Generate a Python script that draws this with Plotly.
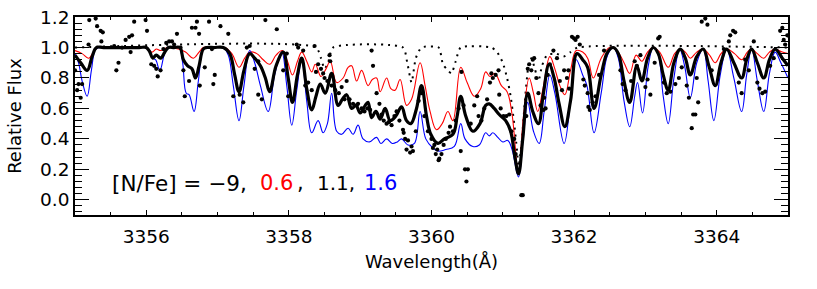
import plotly.graph_objects as go

# ---------------- data ----------------
# model [N/Fe] = -9 (dotted black)
NM9_X = [3355.0, 3358.38, 3358.45, 3358.50, 3358.55, 3358.62, 3359.60, 3359.66, 3359.72, 3359.78,
         3359.86, 3360.10, 3360.16, 3360.23, 3360.28, 3360.34, 3360.41, 3360.84, 3360.92, 3361.00,
         3361.06, 3361.11, 3361.16, 3361.20, 3361.22, 3361.26, 3361.31, 3361.36, 3361.40, 3361.45,
         3361.50, 3361.55, 3361.62, 3361.75, 3361.85, 3361.95, 3362.05, 3365.0]
NM9_Y = [1.0, 1.0, 0.93, 0.86, 0.90, 1.0, 1.0, 0.90, 0.77, 0.93,
         1.0, 1.0, 0.89, 0.85, 0.83, 0.91, 1.0, 1.0, 0.97, 0.90,
         0.80, 0.68, 0.50, 0.32, 0.22, 0.35, 0.65, 0.88, 0.93, 0.86,
         0.78, 0.88, 0.95, 0.96, 0.94, 0.97, 1.0, 1.0]

# model [N/Fe] = 0.6 (red)
N06_X = [3355.00, 3355.10, 3355.19, 3355.27, 3355.32, 3355.42, 3355.90, 3356.00, 3356.08, 3356.14,
         3356.20, 3356.30, 3356.45, 3356.55, 3356.66, 3356.74, 3356.80, 3356.90, 3357.00, 3357.10,
         3357.20, 3357.30, 3357.38, 3357.45,
         3357.55, 3357.64, 3357.73, 3357.82, 3357.91, 3357.98, 3358.05, 3358.12, 3358.18, 3358.25,
         3358.32, 3358.37, 3358.45, 3358.52, 3358.58, 3358.67, 3358.76, 3358.83, 3358.88, 3358.95,
         3359.02, 3359.11, 3359.17, 3359.23, 3359.28, 3359.37, 3359.43, 3359.49, 3359.56, 3359.65,
         3359.72, 3359.84, 3359.91, 3359.98, 3360.07, 3360.15, 3360.23, 3360.30, 3360.41, 3360.50,
         3360.60, 3360.69, 3360.76, 3360.82, 3360.89, 3360.98, 3361.06, 3361.13, 3361.22, 3361.29,
         3361.37, 3361.43, 3361.49, 3361.56, 3361.66, 3361.73, 3361.80, 3361.87, 3361.95, 3362.03,
         3362.12, 3362.19, 3362.27, 3362.38, 3362.50, 3362.60, 3362.70, 3362.78, 3362.87, 3362.95,
         3363.03, 3363.11, 3363.20, 3363.32, 3363.41, 3363.49, 3363.56, 3363.63, 3363.72, 3363.81,
         3363.90, 3363.98, 3364.06, 3364.14, 3364.25, 3364.35, 3364.43, 3364.49, 3364.57, 3364.66,
         3364.74, 3364.82, 3364.92, 3365.00]
N06_Y = [0.98, 0.96, 0.93, 0.98, 1.0, 1.0, 1.0, 1.0, 0.97, 0.99,
         0.98, 1.0, 0.99, 0.97, 0.93, 0.97, 1.0, 1.0, 1.0, 1.0,
         0.96, 0.87, 0.93, 0.97,
         0.96, 0.92, 0.89, 0.95, 0.98, 0.91, 0.82, 0.91, 0.97, 0.91,
         0.84, 0.89, 0.81, 0.86, 0.91, 0.77, 0.80, 0.87, 0.88, 0.78,
         0.85, 0.75, 0.79, 0.80, 0.71, 0.80, 0.73, 0.72, 0.79, 0.62,
         0.66, 0.90, 0.75, 0.58, 0.46, 0.50, 0.58, 0.52, 0.87, 0.77,
         0.68, 0.73, 0.84, 0.81, 0.83, 0.75, 0.71, 0.56, 0.17, 0.55,
         0.80, 0.70, 0.58, 0.72, 0.94, 0.86, 0.75, 0.69, 0.85, 0.98,
         0.97, 0.93, 0.80, 0.93, 1.0, 0.98, 0.90, 0.83, 0.95, 0.91,
         0.97, 1.0, 0.97, 0.87, 0.96, 0.99, 0.97, 0.93, 0.97, 0.99,
         0.95, 0.90, 0.96, 0.99, 0.96, 0.92, 0.97, 0.99, 0.96, 0.93,
         0.97, 0.99, 0.97, 0.96]

# model [N/Fe] = 1.1 (thick black)
N11_X = [3355.00, 3355.08, 3355.17, 3355.24, 3355.30, 3355.40, 3355.90, 3356.00, 3356.05, 3356.09,
         3356.14, 3356.20, 3356.26, 3356.31, 3356.39, 3356.47, 3356.52, 3356.58, 3356.64, 3356.69,
         3356.74, 3356.80, 3356.85, 3356.95, 3357.08, 3357.17, 3357.24, 3357.30, 3357.37, 3357.45,
         3357.52, 3357.60, 3357.67, 3357.73,
         3357.82, 3357.92, 3357.99, 3358.05, 3358.12, 3358.18, 3358.25, 3358.32, 3358.38, 3358.44,
         3358.51, 3358.60, 3358.69, 3358.75, 3358.81, 3358.88, 3358.94, 3359.00, 3359.07, 3359.11,
         3359.16, 3359.22, 3359.28, 3359.35, 3359.42, 3359.50, 3359.58, 3359.65, 3359.71, 3359.79,
         3359.86, 3359.93, 3359.99, 3360.09, 3360.18, 3360.30, 3360.36, 3360.41, 3360.48, 3360.58,
         3360.68, 3360.76, 3360.81, 3360.88, 3360.95, 3361.04, 3361.11, 3361.17, 3361.22, 3361.28,
         3361.35, 3361.42, 3361.50, 3361.57, 3361.65, 3361.72, 3361.79, 3361.87, 3361.95, 3362.04,
         3362.12, 3362.19, 3362.28, 3362.38, 3362.47, 3362.55, 3362.62, 3362.70, 3362.78, 3362.88,
         3362.95, 3363.03, 3363.11, 3363.18, 3363.25, 3363.32, 3363.40, 3363.49, 3363.56, 3363.63,
         3363.72, 3363.81, 3363.89, 3363.98, 3364.06, 3364.14, 3364.24, 3364.35, 3364.42, 3364.49,
         3364.57, 3364.66, 3364.74, 3364.82, 3364.92, 3365.00]
N11_Y = [0.95, 0.90, 0.85, 0.94, 1.0, 1.0, 1.0, 1.0, 0.97, 0.93,
         0.95, 0.93, 0.97, 1.0, 1.0, 1.0, 0.92, 0.88, 0.86, 0.80,
         0.88, 0.99, 1.0, 1.0, 1.0, 0.96, 0.82, 0.71, 0.85, 0.96,
         0.93, 0.88, 0.80, 0.71,
         0.88, 0.97, 0.80, 0.64, 0.82, 0.93, 0.73, 0.59, 0.68, 0.76,
         0.70, 0.83, 0.62, 0.66, 0.69, 0.60, 0.62, 0.57, 0.62, 0.64,
         0.54, 0.58, 0.53, 0.60, 0.52, 0.55, 0.61, 0.52, 0.50, 0.60,
         0.75, 0.55, 0.43, 0.37, 0.40, 0.43, 0.55, 0.68, 0.55, 0.45,
         0.50, 0.62, 0.63, 0.60, 0.56, 0.52, 0.45, 0.28, 0.17, 0.40,
         0.70, 0.58, 0.50, 0.70, 0.89, 0.80, 0.63, 0.48, 0.65, 0.96,
         0.92, 0.87, 0.60, 0.82, 0.97, 1.0, 0.96, 0.78, 0.64, 0.88,
         0.78, 0.93, 1.0, 0.96, 0.82, 0.72, 0.90, 0.99, 0.93, 0.82,
         0.94, 0.99, 0.88, 0.75, 0.90, 0.99, 0.90, 0.80, 0.92, 0.99,
         0.90, 0.80, 0.92, 0.99, 0.93, 0.88]

# model [N/Fe] = 1.6 (blue)
N16_X = [3355.00, 3355.05, 3355.10, 3355.17, 3355.23, 3355.29, 3355.35, 3355.45, 3355.90, 3356.00,
         3356.05, 3356.09, 3356.13, 3356.19, 3356.25, 3356.30, 3356.38, 3356.46, 3356.51, 3356.56,
         3356.60, 3356.67, 3356.73, 3356.80, 3356.85, 3356.95, 3357.08, 3357.15, 3357.22, 3357.30,
         3357.37, 3357.45, 3357.52, 3357.60,
         3357.71, 3357.80, 3357.90, 3357.97, 3358.04, 3358.11, 3358.18, 3358.25, 3358.32, 3358.41,
         3358.48, 3358.54, 3358.60, 3358.67, 3358.74, 3358.83, 3358.90, 3358.97, 3359.04, 3359.13,
         3359.23, 3359.29, 3359.37, 3359.45, 3359.52, 3359.58, 3359.67, 3359.76, 3359.84, 3359.92,
         3360.02, 3360.09, 3360.20, 3360.32, 3360.41, 3360.47, 3360.58, 3360.67, 3360.76, 3360.81,
         3360.86, 3360.93, 3361.00, 3361.07, 3361.13, 3361.22, 3361.29, 3361.35, 3361.43, 3361.51,
         3361.58, 3361.66, 3361.73, 3361.86, 3361.95, 3362.03, 3362.12, 3362.18, 3362.28, 3362.38,
         3362.47, 3362.55, 3362.62, 3362.70, 3362.78, 3362.85, 3362.89, 3362.96, 3363.04, 3363.11,
         3363.18, 3363.25, 3363.32, 3363.40, 3363.48, 3363.55, 3363.63, 3363.72, 3363.81, 3363.88,
         3363.96, 3364.05, 3364.14, 3364.24, 3364.35, 3364.42, 3364.49, 3364.57, 3364.66, 3364.74,
         3364.82, 3364.90, 3365.00]
N16_Y = [0.96, 0.90, 0.78, 0.68, 0.85, 0.99, 1.0, 1.0, 1.0, 1.0,
         0.98, 0.93, 0.92, 0.85, 0.95, 1.0, 1.0, 1.0, 0.90, 0.70,
         0.69, 0.58, 0.78, 0.99, 1.0, 1.0, 1.0, 0.95, 0.75, 0.52,
         0.75, 0.98, 0.90, 0.75,
         0.58, 0.82, 0.97, 0.75, 0.49, 0.72, 0.92, 0.65, 0.44, 0.52,
         0.44, 0.50, 0.70, 0.45, 0.43, 0.47, 0.43, 0.49, 0.40, 0.38,
         0.41, 0.37, 0.40, 0.37, 0.38, 0.40, 0.36, 0.37, 0.58, 0.40,
         0.34, 0.32, 0.33, 0.35, 0.50, 0.40, 0.35, 0.36, 0.44, 0.42,
         0.44, 0.41, 0.38, 0.39, 0.33, 0.15, 0.42, 0.64, 0.45, 0.37,
         0.58, 0.82, 0.70, 0.37, 0.65, 0.92, 0.82, 0.75, 0.44, 0.70,
         0.95, 1.0, 0.93, 0.65, 0.48, 0.68, 0.77, 0.57, 0.88, 1.0,
         0.95, 0.68, 0.50, 0.80, 0.99, 0.88, 0.67, 0.90, 0.99, 0.78,
         0.52, 0.82, 0.99, 0.80, 0.58, 0.82, 0.99, 0.78, 0.58, 0.83,
         0.97, 0.90, 0.80]

# observed spectrum (black dots)
OBS_X = [3355.00, 3355.03, 3355.05, 3355.08, 3355.10, 3355.19, 3355.20, 3355.29, 3355.31, 3355.36,
         3355.39, 3355.37, 3355.55, 3355.58, 3355.61, 3355.66, 3355.71, 3355.76, 3355.80, 3355.78,
         3355.83, 3355.99, 3356.01, 3356.07, 3356.11, 3356.14, 3356.16, 3356.20, 3356.24, 3356.28,
         3356.32, 3356.36, 3356.39, 3356.43, 3356.48, 3356.52, 3356.54, 3356.60, 3356.64, 3356.69,
         3356.71, 3356.74, 3356.75, 3356.82, 3356.88, 3356.92, 3356.94, 3356.96, 3357.04, 3357.15,
         3357.22, 3357.31, 3357.36, 3357.41, 3357.45, 3357.52, 3357.57, 3357.57, 3357.62, 3357.67,
         3357.83, 3357.92, 3357.97, 3357.99, 3358.11, 3358.13, 3358.20, 3358.23, 3358.27, 3358.32,
         3358.36, 3358.38, 3358.41, 3358.45, 3358.48, 3358.50, 3358.54, 3358.57, 3358.58, 3358.60,
         3358.65, 3358.70, 3358.74, 3358.78, 3358.81, 3358.85, 3358.90, 3358.95, 3358.97, 3359.02,
         3359.06, 3359.10, 3359.14, 3359.16, 3359.18, 3359.23, 3359.27, 3359.30, 3359.33, 3359.37,
         3359.40, 3359.44, 3359.48, 3359.51, 3359.55, 3359.60, 3359.61, 3359.63, 3359.65, 3359.67,
         3359.70, 3359.72, 3359.74, 3359.78, 3359.82, 3359.86, 3359.90, 3359.95,
         3360.00, 3360.02, 3360.04, 3360.06, 3360.08, 3360.10, 3360.11, 3360.14, 3360.17, 3360.20,
         3360.24, 3360.26, 3360.30, 3360.34, 3360.38, 3360.41, 3360.42, 3360.45, 3360.47, 3360.51,
         3360.49, 3360.55, 3360.60, 3360.64, 3360.66, 3360.70, 3360.74, 3360.78, 3360.82, 3360.84,
         3360.86, 3360.90, 3360.94, 3360.95, 3360.97, 3361.01, 3361.05, 3361.09, 3361.12, 3361.16,
         3361.18, 3361.26, 3361.28, 3361.33, 3361.35, 3361.37, 3361.40, 3361.42, 3361.44, 3361.47,
         3361.50, 3361.53, 3361.57, 3361.58, 3361.60, 3361.63, 3361.66,
         3361.71, 3361.76, 3361.80, 3361.83, 3361.86, 3361.90, 3361.92, 3361.93, 3361.97, 3362.00,
         3362.02, 3362.05, 3362.08, 3362.13, 3362.15, 3362.19, 3362.20, 3362.22, 3362.26, 3362.30,
         3362.35, 3362.42, 3362.65, 3362.68, 3362.72, 3362.80, 3362.85, 3362.88, 3362.93, 3363.00,
         3363.03, 3363.07, 3363.13, 3363.18, 3363.20,
         3363.26, 3363.30, 3363.35, 3363.42, 3363.47, 3363.51, 3363.58, 3363.61, 3363.65, 3363.67,
         3363.70, 3363.72, 3363.74, 3363.79, 3363.84, 3363.87, 3363.93, 3364.10, 3364.17, 3364.19,
         3364.23, 3364.26, 3364.31, 3364.35, 3364.40, 3364.45, 3364.52, 3364.57, 3364.60, 3364.64,
         3364.68, 3364.75, 3364.80, 3364.89, 3364.92, 3364.94, 3364.96, 3364.99]
OBS_Y = [0.85, 0.72, 0.76, 0.67, 0.76, 1.02, 1.18, 1.19, 1.14, 1.11,
         1.10, 1.04, 1.01, 0.85, 0.90, 1.00, 1.05, 1.07, 1.08, 0.97,
         1.17, 1.18, 1.11, 0.89, 0.88, 0.86, 0.81, 0.85, 0.99, 1.03,
         1.04, 1.04, 1.02, 1.09, 1.00, 0.85, 0.68, 0.78, 1.13, 1.13,
         1.17, 1.09, 0.75, 0.87, 1.17, 0.99, 0.76, 0.82, 1.14, 1.09,
         0.68, 0.69, 0.64, 1.00, 1.01, 0.86, 0.91, 0.69, 0.66, 1.18,
         1.12, 0.85, 0.96, 0.68, 1.02, 1.00, 0.98, 0.75, 0.77, 0.72,
         1.01, 0.84, 0.89, 0.86, 0.83, 0.80, 0.78, 0.95, 0.91, 0.75,
         0.72, 0.70, 0.74, 0.66, 0.78, 0.66, 0.63, 0.62, 0.63, 0.60,
         0.58, 0.60, 0.59, 0.98, 0.88, 0.70, 0.63, 0.56, 0.52, 0.50,
         0.51, 0.49, 0.55, 0.58, 0.52, 0.46, 0.44, 0.40, 0.33, 0.39,
         0.31, 0.35, 0.32, 0.45, 0.65, 0.70, 0.55, 0.45,
         0.40, 0.34, 0.36, 0.30, 0.33, 0.26, 0.27, 0.30, 0.36, 0.40,
         0.44, 0.48, 0.45, 0.52, 0.60, 0.32, 0.84, 0.62, 0.20, 0.20,
         0.12, 0.50, 0.62, 0.68, 0.55, 0.52, 0.60, 0.66, 0.77, 0.83,
         0.80, 0.82, 0.85, 0.69, 0.60, 0.55, 0.55, 0.56, 0.45, 0.40,
         0.30, 0.03, 0.03, 0.55, 0.86, 0.89, 0.85, 0.92, 0.93, 0.80,
         0.70, 0.62, 0.59, 0.67, 0.60, 0.82, 0.89,
         0.98, 0.93, 0.78, 0.72, 0.85, 0.80, 0.85, 0.73, 1.07, 1.06,
         1.05, 1.07, 1.02, 0.79, 0.75, 0.70, 0.61, 0.59, 0.64, 0.68,
         0.82, 0.98, 0.85, 0.76, 0.72, 0.78, 0.91, 0.88, 0.95, 0.74,
         0.79, 0.69, 0.90, 1.06, 1.07,
         0.77, 0.70, 0.71, 0.76, 0.80, 0.87, 0.75, 0.67, 0.47, 0.56,
         0.56, 0.80, 0.64, 1.17, 1.19, 1.15, 0.85, 0.99, 1.04, 1.08,
         1.11, 1.10, 0.77, 0.70, 0.92, 0.85, 1.04, 0.77, 0.73, 0.70,
         0.71, 0.88, 0.93, 1.11, 1.13, 1.05, 1.02, 1.08]

X_TICKS = [3356, 3358, 3360, 3362, 3364]
Y_TICKS = [0.0, 0.2, 0.4, 0.6, 0.8, 1.0, 1.2]

FONT = "DejaVu Sans"
SMOOTH = 1.1

fig = go.Figure()
fig.add_trace(go.Scatter(x=NM9_X, y=NM9_Y, mode="lines",
                         line=dict(color="black", width=2, dash="2px,5px", shape="spline", smoothing=0.6),
                         hoverinfo="skip", showlegend=False))
fig.add_trace(go.Scatter(x=N06_X, y=N06_Y, mode="lines",
                         line=dict(color="#ff0000", width=1.1, shape="spline", smoothing=SMOOTH),
                         showlegend=False))
fig.add_trace(go.Scatter(x=N16_X, y=N16_Y, mode="lines",
                         line=dict(color="#0000ff", width=1.1, shape="spline", smoothing=SMOOTH),
                         showlegend=False))
fig.add_trace(go.Scatter(x=N11_X, y=N11_Y, mode="lines",
                         line=dict(color="black", width=3.2, shape="spline", smoothing=SMOOTH),
                         showlegend=False))
fig.add_trace(go.Scatter(x=OBS_X, y=OBS_Y, mode="markers",
                         marker=dict(color="black", size=4.2, line=dict(width=0)),
                         showlegend=False))

axis_common = dict(showline=True, linecolor="black", linewidth=1.6, mirror="allticks",
                   ticks="inside", tickcolor="black", tickwidth=1.3,
                   showgrid=False, zeroline=False,
                   tickfont=dict(family=FONT, size=18.5, color="black"))

fig.update_xaxes(range=[3355, 3365], tickvals=X_TICKS, ticklen=5, ticklabelstandoff=4,
                 minor=dict(dtick=0.5, tick0=3355, ticklen=3, ticks="inside", tickcolor="black", tickwidth=1.2),
                 title=dict(text="Wavelength(Å)", font=dict(family=FONT, size=18, color="black"), standoff=9),
                 **axis_common)
fig.update_yaxes(range=[-0.1, 1.2005], tickvals=Y_TICKS, tickformat=".1f", ticklen=14,
                 minor=dict(dtick=0.04, tick0=0, ticklen=7, ticks="inside", tickcolor="black", tickwidth=1.2),
                 title=dict(text="Relative Flux", font=dict(family=FONT, size=18, color="black"), standoff=14),
                 **axis_common)

ann_y = 0.16
fig.add_annotation(x=0.049, y=ann_y, xref="paper", yref="paper", text="[N/Fe] = −9,",
                   showarrow=False, xanchor="left", yanchor="middle",
                   font=dict(family=FONT, size=21.5, color="black"))
fig.add_annotation(x=0.257, y=ann_y, xref="paper", yref="paper", text="0.6",
                   showarrow=False, xanchor="left", yanchor="middle",
                   font=dict(family=FONT, size=21, color="#ff0000"))
fig.add_annotation(x=0.309, y=ann_y, xref="paper", yref="paper", text=",",
                   showarrow=False, xanchor="left", yanchor="middle",
                   font=dict(family=FONT, size=21, color="black"))
fig.add_annotation(x=0.337, y=ann_y, xref="paper", yref="paper", text="1.1,",
                   showarrow=False, xanchor="left", yanchor="middle",
                   font=dict(family=FONT, size=20, color="black"))
fig.add_annotation(x=0.402, y=ann_y, xref="paper", yref="paper", text="1.6",
                   showarrow=False, xanchor="left", yanchor="middle",
                   font=dict(family=FONT, size=21, color="#0000ff"))

fig.update_layout(width=817, height=289,
                  margin=dict(l=75, r=29, t=17, b=74, autoexpand=False),
                  paper_bgcolor="white", plot_bgcolor="white",
                  font=dict(family=FONT, color="black"))

fig.write_html("out.html", config={"displayModeBar": False},
               post_script="document.body.style.margin='0';document.body.style.padding='0';")
